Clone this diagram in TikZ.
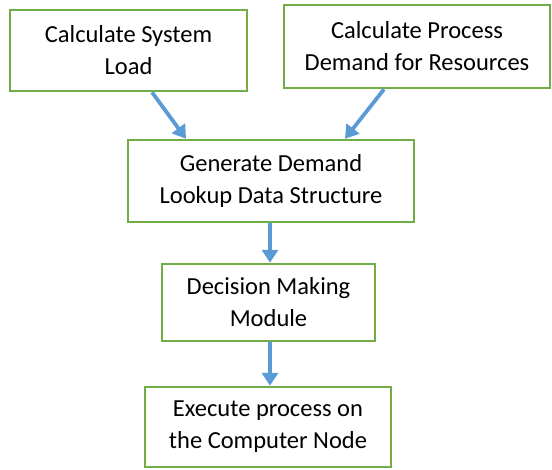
\documentclass[tikz,border=0pt]{standalone}
\usepackage{fontspec}
\setmainfont{Carlito}
\usetikzlibrary{arrows.meta}
\definecolor{boxgreen}{RGB}{112,173,71}
\definecolor{linkblue}{RGB}{91,155,213}
\begin{document}
\begin{tikzpicture}[x=1pt,y=-1pt,
  box/.style={draw=boxgreen, line width=2.5pt, align=center, inner sep=0pt,
    font=\fontsize{24.5}{32}\selectfont},
  link/.style={draw=linkblue, line width=3.8pt,
    -{Triangle[width=16pt,length=13pt]}}]
\useasboundingbox (0,0) rectangle (552,469);

% process steps
\node[box, minimum width=237, minimum height=81] (load) at (128.5,50.5)
  {Calculate System\\Load};
\node[box, minimum width=266, minimum height=83] (dem) at (417,46.5)
  {Calculate Process\\Demand for Resources};
\node[box, minimum width=286, minimum height=82] (gen) at (271,181)
  {Generate Demand\\Lookup Data Structure};
\node[box, minimum width=213, minimum height=77] (dec) at (268.5,302.5)
  {Decision Making\\Module};
\node[box, minimum width=246, minimum height=80] (exe) at (268,427)
  {Execute process on\\the Computer Node};

% flow between the steps
\draw[link] ([xshift=23.5pt]load.south) -- ([xshift=-85pt]gen.north);
\draw[link] ([xshift=-33pt]dem.south) -- ([xshift=74pt]gen.north);
\draw[link] ([xshift=-1pt]gen.south) -- ([xshift=1.5pt]dec.north);
\draw[link] ([xshift=1.5pt]dec.south) -- ([xshift=2pt]exe.north);
\end{tikzpicture}
\end{document}
